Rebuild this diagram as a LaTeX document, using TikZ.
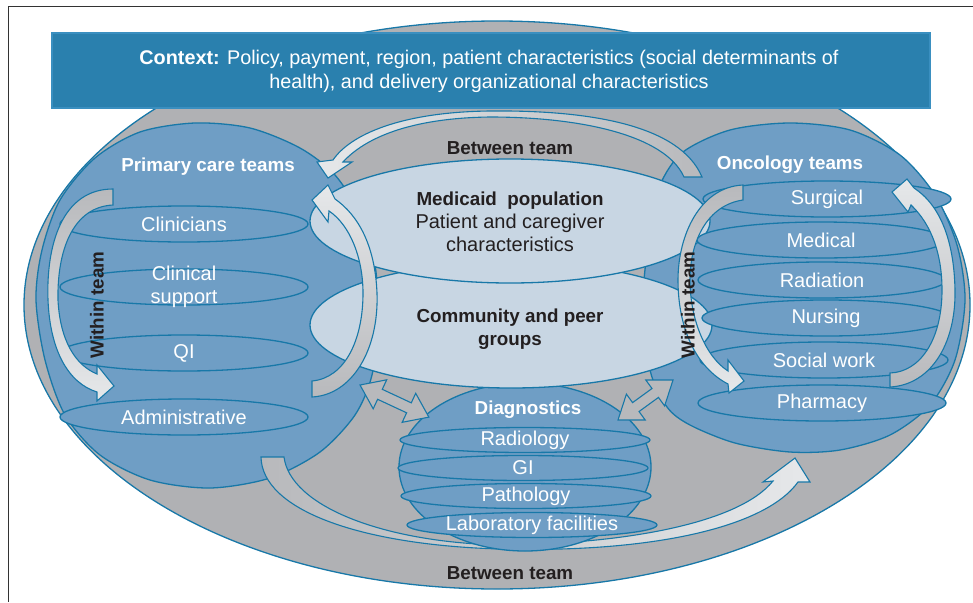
\documentclass[tikz,border=0pt]{standalone}
\usepackage{fontspec}
\setmainfont{Liberation Sans}
\definecolor{tblue}{HTML}{1878A8}
\definecolor{sblue}{HTML}{6F9EC5}
\definecolor{pblue}{HTML}{C8D6E3}
\definecolor{ogray}{HTML}{B0B1B4}
\definecolor{cblue}{HTML}{2A80AE}
\definecolor{cedge}{HTML}{3A8FC0}
\definecolor{alight}{HTML}{E6E8EA}
\definecolor{agray}{HTML}{B8B9BC}
\definecolor{tdark}{HTML}{231F20}
\newcommand{\rfont}{\fontsize{20}{23}\selectfont}
\newcommand{\bfont}{\bfseries\fontsize{18.8}{23}\selectfont}
\tikzset{
  edge/.style={draw=tblue, line width=1.3pt},
  sphere/.style={edge, fill=sblue},
  disk/.style={edge, fill=sblue},
  pale/.style={edge, fill=pblue},
  band/.style={draw=tblue, line width=1.1pt, line join=miter},
  dblarr/.style={band, fill=agray},
  lbl/.style={text=white, font=\rfont, align=center, inner sep=0pt},
  hd/.style={text=white, font=\bfont, inner sep=0pt},
  dk/.style={text=tdark, font=\bfont, inner sep=0pt, align=center}
}
\begin{document}
\begin{tikzpicture}[x=1pt, y=-1pt]
    \useasboundingbox (0,0) rectangle (973,602);
    \draw[line width=1pt, black!80] (973,7) -- (8,7) -- (8,602);
    % outer ring
    \draw[edge, fill=ogray] (497,305) ellipse [x radius=473pt, y radius=284pt];
    \node[draw=cedge, fill=cblue, line width=1.3pt, minimum width=878pt, minimum height=75pt, inner sep=0pt] (ctx) at (491,70.5) {};
    \node[lbl, font=\fontsize{19.8}{24}\selectfont] (ctxtext) at (489,71) {\textbf{Context:} Policy, payment, region, patient characteristics (social determinants of\\health), and delivery organizational characteristics};

    % the two team spheres
    \draw[sphere] plot[smooth cycle] coordinates {(195,123) (250,128) (300,148) (335,175) (360,215) (375,265) (378,320) (372,375) (355,415) (320,452) (270,478) (210,488) (150,480) (100,455) (65,415) (45,360) (36,300) (42,250) (60,200) (95,158) (140,132)};
    \draw[sphere] plot[smooth cycle] coordinates {(790,123) (850,130) (900,155) (935,195) (957,245) (965,300) (955,360) (930,405) (890,435) (840,450) (790,452) (735,443) (690,425) (667,407) (650,370) (643,300) (650,230) (660,185) (683,152) (730,130)};

    % lower between team band
    \draw[band, left color=agray, right color=alight] (284,457) -- (261,457) .. controls (262,510) and (360,545) .. (500,549) .. controls (650,553) and (765,528) .. (798,482) -- (810,482) -- (795,458) -- (763,482) -- (773,481) .. controls (740,522) and (630,544) .. (500,545) .. controls (380,542) and (290,505) .. (284,457) -- cycle;

    % diagnostics
    \draw[sphere] (525,467) ellipse [x radius=126pt, y radius=84pt];
    \foreach \x/\y/\t [count=\i] in {525/440/Radiology, 523/468/GI, 526/496/Pathology, 532/525/Laboratory facilities}
    {
        \draw[disk] (\x,\y) ellipse [x radius=125pt, y radius=12.5pt];
        \node[lbl] (dg\i) at (\x,\y) {\t};
    }
    \node[hd] (diag) at (528,410) {Diagnostics};

    % population ellipses
    \draw[pale] (511,325) ellipse [x radius=201pt, y radius=63pt];
    \draw[pale] (510,221) ellipse [x radius=200pt, y radius=62pt];
    \node[dk, font=\rfont] (med) at (510,222) {{\bfont Medicaid\ \ population}\\Patient and caregiver\\characteristics};
    \node[dk] (comm) at (510,329) {Community and peer\\groups};

    % team members
    \foreach \y/\t [count=\i] in {224/Clinicians, 287/{Clinical\\support}, 353/QI, 417/Administrative}
    {
        \draw[disk] (184,\y) ellipse [x radius=124pt, y radius=18pt];
        \node[lbl] (pc\i) at (184,\y) {\t};
    }
    \foreach \x/\y/\t [count=\i] in {827/199/Surgical, 821/240/Medical, 822/280/Radiation, 826/318/Nursing, 824/360/Social work, 822/403/Pharmacy}
    {
        \draw[disk] (\x,\y) ellipse [x radius=124pt, y radius=18pt];
        \node[lbl] (on\i) at (\x,\y) {\t};
    }
    \node[hd] (pct) at (208,167) {Primary care teams};
    \node[hd] (onct) at (790,165) {Oncology teams};

    % upper between team band
    \draw[band, left color=alight, right color=agray] (702,177) .. controls (680,125) and (590,110) .. (490,111) .. controls (400,112) and (350,135) .. (333,160) -- (317,162) -- (328,178) -- (352,162) -- (343,162) .. controls (365,138) and (410,118) .. (490,117) .. controls (580,117) and (665,135) .. (684,177) -- cycle;
    % into primary care
    \draw[band, top color=alight, bottom color=agray] (312,381) -- (312,397) .. controls (352,395) and (379,350) .. (377,293) .. controls (375,245) and (358,215) .. (335,199) -- (328,185) -- (312,200) -- (328,222) -- (329,211) .. controls (350,225) and (363,258) .. (363,293) .. controls (363,340) and (345,378) .. (312,381) -- cycle;
    % within team loops
    \draw[band, top color=agray, bottom color=alight] (113,205) -- (113,189) .. controls (62,189) and (46,245) .. (48,300) .. controls (50,350) and (68,383) .. (97,392) -- (97,401) -- (114,386) -- (97,365) -- (97,374) .. controls (75,365) and (60,340) .. (58,300) .. controls (57,252) and (72,207) .. (113,205) -- cycle;
    \draw[band, top color=agray, bottom color=alight] (743,200) -- (743,185) .. controls (700,187) and (678,235) .. (678,280) .. controls (678,330) and (697,368) .. (728,384) -- (729,393) -- (744,381) -- (728,360) -- (728,371) .. controls (706,357) and (690,320) .. (690,280) .. controls (690,240) and (708,205) .. (743,200) -- cycle;
    \draw[band, top color=alight, bottom color=agray] (890,373) -- (890,387) .. controls (930,385) and (956,345) .. (955,290) .. controls (954,240) and (940,205) .. (914,188) -- (907,179) -- (892,192) -- (908,212) -- (911,205) .. controls (932,225) and (942,255) .. (942,290) .. controls (942,340) and (920,372) .. (890,373) -- cycle;

    % two way links to diagnostics
    \foreach \px/\py/\ang/\len in {360/385/-25/76, 618/420/36/68}
    {
        \draw[dblarr, shift={(\px,\py)}, rotate=\ang] (0,0) -- (22,16) -- (22,5.5) -- (\len-22,5.5) -- (\len-22,16) -- (\len,0) -- (\len-22,-16) -- (\len-22,-5.5) -- (22,-5.5) -- (22,-16) -- cycle;
    }

    \node[dk] (btop) at (510,148) {Between team};
    \node[dk] (bbot) at (510,573) {Between team};
    \node[dk, rotate=90] (wleft) at (97,305) {Within team};
    \node[dk, rotate=90] (wright) at (688,305) {Within team};
\end{tikzpicture}
\end{document}
